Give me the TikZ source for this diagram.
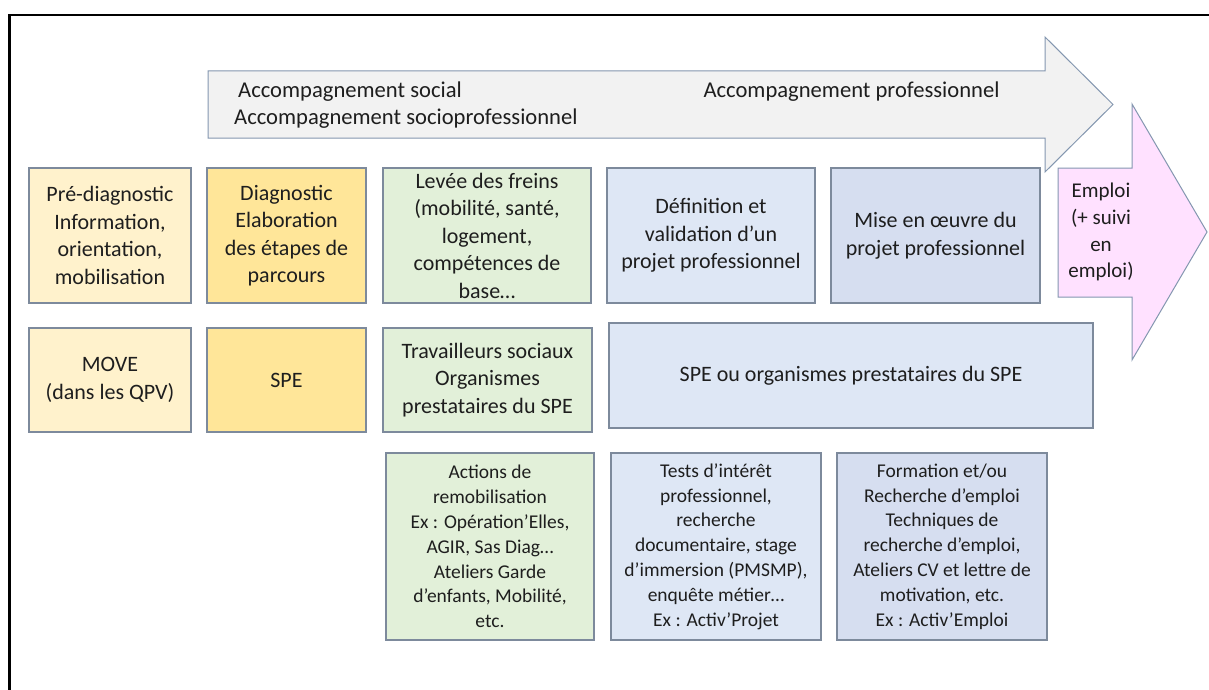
\documentclass[tikz,border=0pt]{standalone}
\usepackage{fontspec}
\setmainfont{Carlito}

\definecolor{creme}{HTML}{FFF2CC}
\definecolor{jaune}{HTML}{FFE699}
\definecolor{vert}{HTML}{E2F0D9}
\definecolor{bleu}{HTML}{DEE7F5}
\definecolor{bleufonce}{HTML}{D6DEF0}
\definecolor{rose}{HTML}{FFE1FF}
\definecolor{gris}{HTML}{F2F2F2}
\definecolor{bord}{HTML}{7D8A9C}
\definecolor{bordfleche}{HTML}{8497B0}
\definecolor{texte}{HTML}{1E1E1E}

\tikzstyle{etape}=[draw=bord, line width=1.2pt, align=center, inner sep=0pt, text=texte, font=\fontsize{22}{27.5}\selectfont]
\tikzstyle{petit}=[font=\fontsize{19.5}{24.8}\selectfont]
\tikzstyle{legende}=[inner sep=0pt, text=texte, font=\fontsize{22.6}{27}\selectfont]
\tikzstyle{fleche}=[draw=bordfleche, line width=1pt, line join=miter]

\begin{document}
\begin{tikzpicture}[x=1pt, y=-1pt]
\useasboundingbox (0,0) rectangle (1209,690);
\fill[white] (0,0) rectangle (1209,690);
\draw[line width=2.5pt] (9.5,690) -- (9.5,15) -- (1209,15);

\filldraw[fleche, fill=gris] (208,71) -- (1045,71) -- (1045,37) -- (1113,104.5) -- (1045,172) -- (1045,138) -- (208,138) -- cycle;
\filldraw[fleche, fill=rose] (1058,168) -- (1132,168) -- (1132,104) -- (1207,232) -- (1132,360) -- (1132,297) -- (1058,297) -- cycle;

\node[legende, anchor=west] (social) at (238,92) {Accompagnement social};
\node[legende, anchor=west] (socio) at (234,119) {Accompagnement socioprofessionnel};
\node[legende] (pro) at (851.5,92) {Accompagnement professionnel};
\node[legende, align=center, font=\fontsize{21}{26.8}\selectfont] (emploi) at (1101,232) {Emploi\\(+ suivi\\en\\emploi)};

\node[etape, fill=creme, minimum width=162pt, minimum height=135pt] (prediag) at (110,235.5) {Pré-diagnostic\\Information,\\orientation,\\mobilisation};
\node[etape, fill=jaune, minimum width=159pt, minimum height=135pt] (diag) at (286.5,235.5) {Diagnostic\\Elaboration\\des étapes de\\parcours};
\node[etape, fill=vert, minimum width=208pt, minimum height=135pt] (freins) at (487,235.5) {Levée des freins\\(mobilité, santé,\\logement,\\compétences de\\base…};
\node[etape, fill=bleu, minimum width=208pt, minimum height=135pt] (definition) at (711,235.5) {Définition et\\validation d’un\\projet professionnel};
\node[etape, fill=bleufonce, minimum width=209pt, minimum height=135pt] (miseoeuvre) at (935.5,235.5) {Mise en œuvre du\\projet professionnel};

\node[etape, fill=creme, minimum width=162pt, minimum height=104pt] (move) at (110,380) {MOVE\\(dans les QPV)};
\node[etape, fill=jaune, minimum width=159pt, minimum height=104pt] (spe) at (286.5,380) {SPE};
\node[etape, fill=vert, minimum width=209pt, minimum height=104pt] (travailleurs) at (487.5,380) {Travailleurs sociaux\\Organismes\\prestataires du SPE};
\node[etape, fill=bleu, minimum width=484pt, minimum height=105pt] (speorg) at (851,375.5) {SPE ou organismes prestataires du SPE};

\node[etape, petit, fill=vert, minimum width=208pt, minimum height=187pt] (actions) at (490,546.5) {Actions de\\remobilisation\\Ex : Opération’Elles,\\AGIR, Sas Diag…\\Ateliers Garde\\d’enfants, Mobilité,\\etc.};
\node[etape, petit, fill=bleu, minimum width=210pt, minimum height=187pt] (tests) at (716,546.5) {Tests d’intérêt\\professionnel,\\recherche\\documentaire, stage\\d’immersion (PMSMP),\\enquête métier…\\Ex : Activ’Projet};
\node[etape, petit, fill=bleufonce, minimum width=210pt, minimum height=187pt] (formation) at (942,546.5) {Formation et/ou\\Recherche d’emploi\\Techniques de\\recherche d’emploi,\\Ateliers CV et lettre de\\motivation, etc.\\Ex : Activ’Emploi};
\end{tikzpicture}
\end{document}
